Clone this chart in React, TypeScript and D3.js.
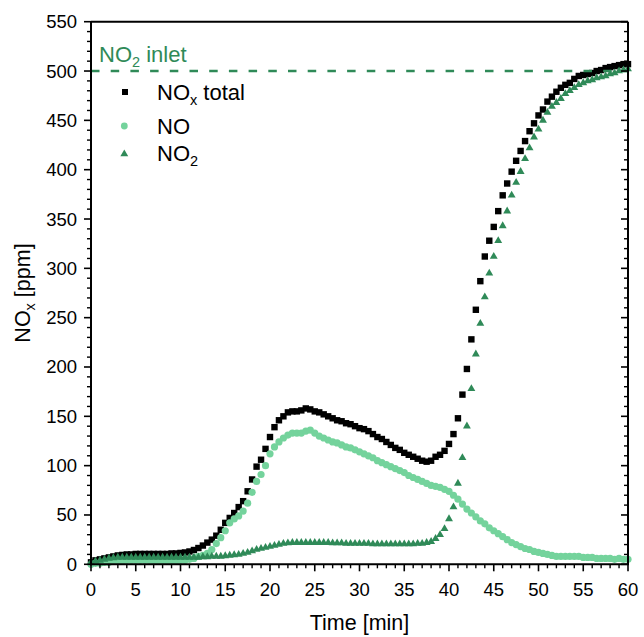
import React from "react";
import * as d3 from "d3";

// sampling times [min]
const TIME: number[] = [
  0, 0.5, 1, 1.5, 2, 2.5, 3, 3.5, 4, 4.5,
  5, 5.5, 6, 6.5, 7, 7.5, 8, 8.5, 9, 9.5,
  10, 10.5, 11, 11.5, 12, 12.5, 13, 13.5, 14, 14.5,
  15, 15.5, 16, 16.5, 17, 17.5, 18, 18.5, 19, 19.5,
  20, 20.5, 21, 21.5, 22, 22.5, 23, 23.5, 24, 24.5,
  25, 25.5, 26, 26.5, 27, 27.5, 28, 28.5, 29, 29.5,
  30, 30.5, 31, 31.5, 32, 32.5, 33, 33.5, 34, 34.5,
  35, 35.5, 36, 36.5, 37, 37.5, 38, 38.5, 39, 39.5,
  40, 40.5, 41, 41.5, 42, 42.5, 43, 43.5, 44, 44.5,
  45, 45.5, 46, 46.5, 47, 47.5, 48, 48.5, 49, 49.5,
  50, 50.5, 51, 51.5, 52, 52.5, 53, 53.5, 54, 54.5,
  55, 55.5, 56, 56.5, 57, 57.5, 58, 58.5, 59, 59.5,
  60,
];

const NOX_TOTAL: number[] = [
  2, 4, 5, 6, 7, 8, 9, 9.5, 10, 10,
  10.5, 10.5, 10.5, 10.5, 10.5, 10.5, 10.5, 10.5, 11, 11,
  11.5, 12, 13, 14.5, 16.5, 19, 22, 25, 29, 35,
  42, 47, 52, 58, 64, 74, 86, 99, 106, 117,
  129, 139, 146, 150, 154, 155, 155, 156, 158, 157,
  155, 154, 152, 150, 148, 146, 145, 143, 142, 140,
  138, 137, 135, 132, 129, 127, 124, 121, 118, 116,
  113, 111, 109, 107, 105, 104, 105, 109, 111, 115,
  122, 132, 148, 172, 198, 228, 258, 287, 312, 328,
  342, 358, 374, 386, 398, 409, 419, 429, 439, 447,
  455, 461, 469, 474, 479, 483, 486, 488, 492, 495,
  496, 497, 498, 500, 501, 503, 504, 505, 506, 507,
  507,
];

const NO_VALUES: number[] = [
  0, 1, 1, 2, 2, 3, 3, 3, 4, 4,
  4, 4, 4, 4, 3, 3, 3, 3, 3, 3,
  4, 4, 5, 6, 8, 9, 11, 15, 21, 27,
  34, 42, 46, 49, 54, 62, 73, 84, 91, 100,
  112, 119, 124, 128, 131, 133, 133, 133, 135, 136,
  133, 130, 128, 126, 124, 123, 121, 119, 118, 116,
  114, 112, 110, 108, 105, 103, 101, 99, 97, 95,
  93, 90, 88, 86, 84, 82, 80, 79, 78, 76,
  74, 70, 66, 61, 56, 52, 48, 44, 41, 37,
  34, 31, 28, 25, 22, 20, 18, 16, 15, 13,
  12, 11, 10, 9, 8, 8, 8, 8, 8, 8,
  7, 7, 7, 6, 6, 6, 6, 5, 6, 5,
  5,
];

const NO2_VALUES: number[] = [
  2, 3, 4, 5, 6, 6.5, 7, 7, 7, 7,
  7, 7, 7, 7, 7, 7, 7, 7, 7, 7,
  7, 7, 7, 7, 7, 7.5, 7.5, 8, 8, 8,
  8.5, 9, 9.5, 10, 11, 12, 13.5, 15, 16, 17,
  18, 19, 20, 21, 21.5, 22, 22, 22, 22, 22,
  22, 22, 22, 22, 21.5, 21.5, 21.5, 21, 21, 21,
  21, 21, 21, 20.5, 20.5, 20.5, 20.5, 20.5, 20.5, 20.5,
  20.5, 20.5, 20.5, 21, 21, 22, 23, 26, 30, 36,
  46, 58, 82, 108, 140, 178, 213, 244, 271, 295,
  312, 328, 343, 358, 374, 387, 398, 411, 422, 433,
  441, 450, 458, 464, 468, 472, 477, 480, 483, 486,
  488, 490, 491, 493, 494, 495, 497, 498, 500, 501,
  502,
];

const X_TICKS: number[] = [0, 5, 10, 15, 20, 25, 30, 35, 40, 45, 50, 55, 60];
const Y_TICKS: number[] = [0, 50, 100, 150, 200, 250, 300, 350, 400, 450, 500, 550];
const NO2_INLET = 500;

const W = 644;
const H = 637;
const FONT = "'Liberation Sans', Arial, Helvetica, sans-serif";
const C_BLACK = "#000000";
const C_NO = "#74d39c";
const C_NO2 = "#2f8a58";

export default function App() {
  const x = d3.scaleLinear().domain([0, 60]).range([91, 628]);
  const y = d3.scaleLinear().domain([0, 550]).range([564.3, 21.7]);
  const x0 = x.range()[0];
  const x1 = x.range()[1];
  const y0 = y.range()[0];
  const y1 = y.range()[1];

  const xMinor = d3.range(0, 61, 1).filter((v) => v % 5 !== 0);
  const yMinor = d3.range(0, 551, 10).filter((v) => v % 50 !== 0);

  const tri = d3.symbol().type(d3.symbolTriangle).size(27)() as string;
  const SQ = 6.4;

  return (
    <svg
      width={W}
      height={H}
      style={{ position: "absolute", left: 0, top: 0, background: "#fff" }}
      fontFamily={FONT}
    >
      <rect x={0} y={0} width={W} height={H} fill="#fff" />

      {/* NOx total */}
      <g>
        {TIME.map((t, i) => (
          <rect
            key={"s" + i}
            x={x(t) - SQ / 2}
            y={y(NOX_TOTAL[i]) - SQ / 2}
            width={SQ}
            height={SQ}
            fill={C_BLACK}
          />
        ))}
      </g>
      {/* NO */}
      <g>
        {TIME.map((t, i) => (
          <circle key={"c" + i} cx={x(t)} cy={y(NO_VALUES[i])} r={3.6} fill={C_NO} />
        ))}
      </g>
      {/* NO2 */}
      <g>
        {TIME.map((t, i) => (
          <path
            key={"t" + i}
            d={tri}
            transform={`translate(${x(t)},${y(NO2_VALUES[i])})`}
            fill={C_NO2}
          />
        ))}
      </g>

      {/* NO2 inlet dashed line */}
      <line
        x1={x0}
        x2={x1}
        y1={y(NO2_INLET)}
        y2={y(NO2_INLET)}
        stroke={C_NO2}
        strokeWidth={2.6}
        strokeDasharray="8.5 11.2"
      />
      <text x={99} y={61.5} fontSize={22} fill={C_NO2}>
        NO
        <tspan fontSize={14.5} dy={5}>2</tspan>
        <tspan dy={-5}> inlet</tspan>
      </text>

      {/* frame */}
      <line x1={x0} x2={x1} y1={y1} y2={y1} stroke="#000" strokeWidth={2} />
      <line x1={x1} x2={x1} y1={y1} y2={y0} stroke="#000" strokeWidth={2} />
      <line x1={x0} x2={x0} y1={y1} y2={y0 + 1} stroke="#000" strokeWidth={2} />
      <line x1={x0 - 1} x2={x1 + 1} y1={y0} y2={y0} stroke="#000" strokeWidth={2} />

      {/* x ticks */}
      {X_TICKS.map((v) => (
        <g key={"xt" + v}>
          <line x1={x(v)} x2={x(v)} y1={y0} y2={y0 + 7} stroke="#000" strokeWidth={1.6} />
          <text x={x(v)} y={596} fontSize={18.5} textAnchor="middle" fill="#000">
            {v}
          </text>
        </g>
      ))}
      {xMinor.map((v) => (
        <line key={"xm" + v} x1={x(v)} x2={x(v)} y1={y0} y2={y0 + 4} stroke="#000" strokeWidth={1.4} />
      ))}

      {/* y ticks left */}
      {Y_TICKS.map((v) => (
        <g key={"yt" + v}>
          <line x1={x0 - 7} x2={x0} y1={y(v)} y2={y(v)} stroke="#000" strokeWidth={1.6} />
          <text x={77} y={y(v) + 6.5} fontSize={18.5} textAnchor="end" fill="#000">
            {v}
          </text>
        </g>
      ))}
      {yMinor.map((v) => (
        <line key={"ym" + v} x1={x0 - 4} x2={x0} y1={y(v)} y2={y(v)} stroke="#000" strokeWidth={1.4} />
      ))}

      {/* y ticks right (inward) */}
      {Y_TICKS.map((v) => (
        <line key={"yr" + v} x1={x1 - 7} x2={x1} y1={y(v)} y2={y(v)} stroke="#000" strokeWidth={1.6} />
      ))}
      {yMinor.map((v) => (
        <line key={"yrm" + v} x1={x1 - 4} x2={x1} y1={y(v)} y2={y(v)} stroke="#000" strokeWidth={1.4} />
      ))}

      {/* axis titles */}
      <text x={(x0 + x1) / 2} y={630} fontSize={21.5} textAnchor="middle" fill="#000">
        Time [min]
      </text>
      <text
        transform={`translate(30,${(y0 + y1) / 2}) rotate(-90)`}
        fontSize={21.5}
        textAnchor="middle"
        fill="#000"
      >
        NO
        <tspan fontSize={14.5} dy={5}>x</tspan>
        <tspan dy={-5}>{"  [ppm]"}</tspan>
      </text>

      {/* legend */}
      <rect x={122} y={89} width={6} height={6} fill={C_BLACK} />
      <text x={157} y={99.5} fontSize={22} fill="#000">
        NO
        <tspan fontSize={14.5} dy={5}>x</tspan>
        <tspan dy={-5}> total</tspan>
      </text>
      <circle cx={124.3} cy={126} r={3.4} fill={C_NO} />
      <text x={157} y={133.5} fontSize={22} fill="#000">
        NO
      </text>
      <path d={tri} transform="translate(124.3,154)" fill={C_NO2} />
      <text x={157} y={160.5} fontSize={22} fill="#000">
        NO
        <tspan fontSize={14.5} dy={5}>2</tspan>
      </text>
    </svg>
  );
}
